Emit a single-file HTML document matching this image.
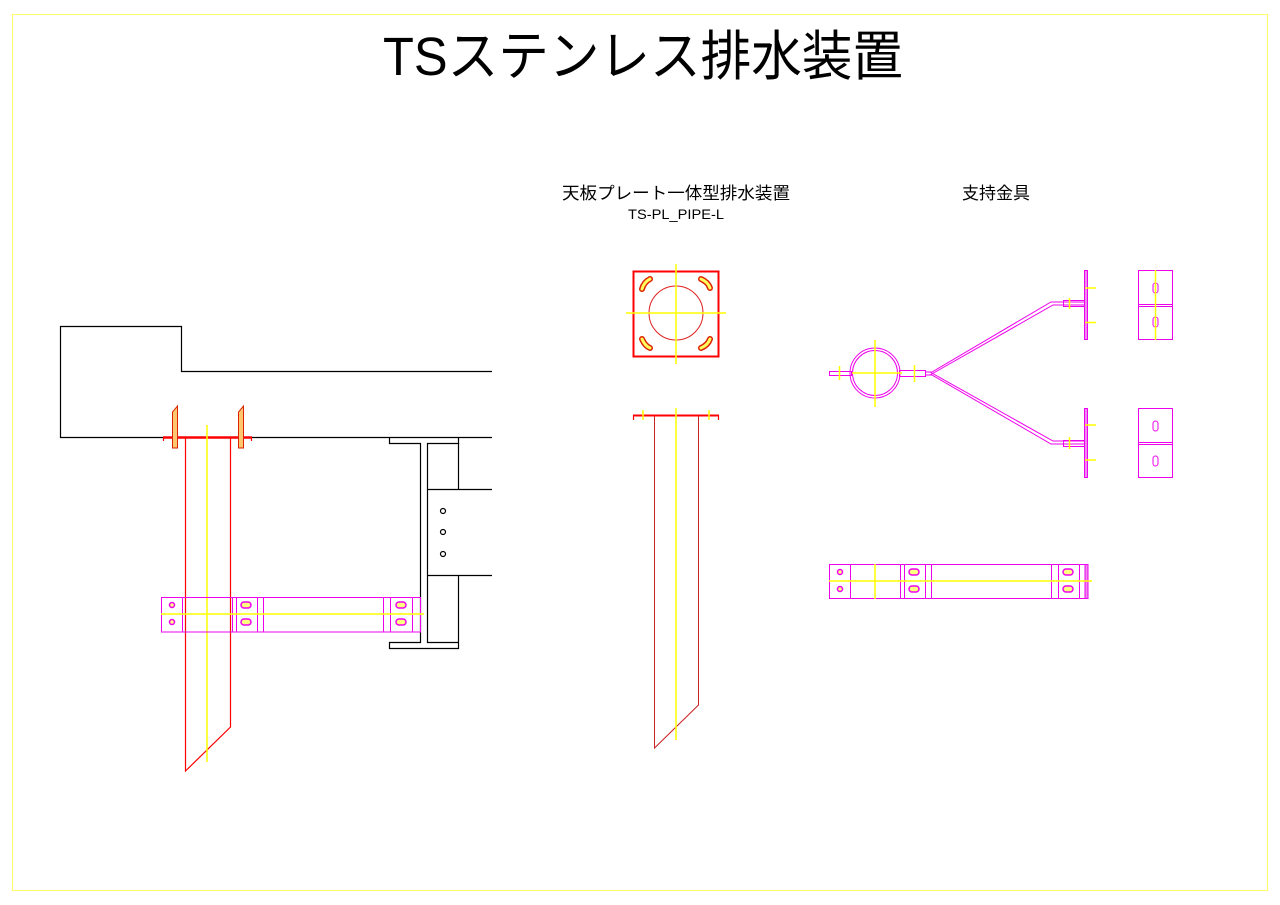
<!DOCTYPE html>
<html><head><meta charset="utf-8"><style>
html,body{margin:0;padding:0;background:#fff;width:1280px;height:905px;overflow:hidden}
svg{display:block}
</style></head><body>
<svg width="1280" height="905" viewBox="0 0 1280 905" xmlns="http://www.w3.org/2000/svg" fill="none">
<rect x="12.5" y="14.5" width="1255" height="876" stroke="#ffff66" stroke-width="1"/>
<text x="383" y="75" font-family="'Liberation Sans','Noto Sans CJK JP',sans-serif" font-size="54" fill="#000" textLength="520" lengthAdjust="spacingAndGlyphs">TSステンレス排水装置</text>
<text x="562" y="199" font-family="'Liberation Sans','Noto Sans CJK JP',sans-serif" font-size="17" fill="#000" textLength="228" lengthAdjust="spacingAndGlyphs">天板プレート一体型排水装置</text>
<text x="628" y="219" font-family="'Liberation Sans','Noto Sans CJK JP',sans-serif" font-size="14" fill="#000" textLength="96" lengthAdjust="spacingAndGlyphs">TS-PL_PIPE-L</text>
<text x="962" y="199" font-family="'Liberation Sans','Noto Sans CJK JP',sans-serif" font-size="17" fill="#000" textLength="68" lengthAdjust="spacingAndGlyphs">支持金具</text>

<g stroke="#000" stroke-width="1.2">
<polyline points="492,371.5 181.5,371.5 181.5,326.5 60.5,326.5 60.5,437.5 492,437.5"/>
<polyline points="389.5,437.5 389.5,443.5 420.5,443.5 420.5,642.5 389.5,642.5 389.5,648.5 458.5,648.5 458.5,642.5 427.5,642.5 427.5,443.5 458.5,443.5 458.5,437.5"/>
<line x1="458.5" y1="443" x2="458.5" y2="489"/>
<line x1="458.5" y1="575" x2="458.5" y2="642"/>
<line x1="427" y1="489.5" x2="492" y2="489.5"/>
<line x1="427" y1="575.5" x2="492" y2="575.5"/>
<circle cx="443" cy="511" r="2.5"/><circle cx="443" cy="532" r="2.5"/><circle cx="443" cy="554" r="2.5"/>
</g>
<g stroke="#ff0000" stroke-width="1.2">
<polyline points="185.5,438 185.5,771 230.5,727 230.5,438"/>
<line x1="163" y1="437.5" x2="252" y2="437.5" stroke-width="2.5"/>
<polyline points="163.5,441 163.5,437.5"/><polyline points="251.5,441 251.5,437.5"/>
</g>
<line x1="207" y1="425" x2="207" y2="762" stroke="#ffff00" stroke-width="1.5"/>
<g stroke="#dd2200" fill="#ffc870" stroke-width="1">
<path d="M172.5,448 L172.5,412 L177.5,406 L177.5,448 Z"/>
<path d="M238.5,448 L238.5,412 L243.5,406 L243.5,448 Z"/>
</g>
<g stroke="#ee00ee" stroke-width="1">
<rect x="161.5" y="597.5" width="259" height="34.5"/>
<line x1="182.5" y1="597" x2="182.5" y2="632"/>
<line x1="232.5" y1="597" x2="232.5" y2="632"/>
<line x1="236.5" y1="597" x2="236.5" y2="632"/>
<line x1="257.5" y1="597" x2="257.5" y2="632"/>
<line x1="263.5" y1="597" x2="263.5" y2="632"/>
<line x1="383.5" y1="597" x2="383.5" y2="632"/>
<line x1="390.5" y1="597" x2="390.5" y2="632"/>
<line x1="412.5" y1="597" x2="412.5" y2="632"/>
</g>
<line x1="161" y1="614" x2="424" y2="614" stroke="#ffff00" stroke-width="1.5"/>
<g stroke="#ee00ee" stroke-width="1.5" fill="#ffff80">
<circle cx="172" cy="605" r="2.5"/><circle cx="172" cy="622" r="2.5"/>
<rect x="241" y="602" width="10" height="6" rx="3"/><rect x="241" y="619" width="10" height="6" rx="3"/>
<rect x="396" y="602" width="10" height="6" rx="3"/><rect x="396" y="619" width="10" height="6" rx="3"/>
</g>

<rect x="633.5" y="271.5" width="85" height="85" stroke="#ff0000" stroke-width="2"/>
<circle cx="676" cy="313" r="27" stroke="#dd2222" stroke-width="1"/>
<g stroke="#ffff00" stroke-width="1.5">
<line x1="626" y1="313" x2="726" y2="313"/>
<line x1="676" y1="264" x2="676" y2="364"/>
</g>
<g stroke="#dd2200" stroke-width="6" stroke-linecap="round">
<path d="M642,289 Q644,282 650,279"/><path d="M701,279 Q708,282 710,288"/>
<path d="M642,339 Q645,346 650,348"/><path d="M701,348 Q708,345 710,339"/>
</g>
<g stroke="#ffff60" stroke-width="3" stroke-linecap="round">
<path d="M642,289 Q644,282 650,279"/><path d="M701,279 Q708,282 710,288"/>
<path d="M642,339 Q645,346 650,348"/><path d="M701,348 Q708,345 710,339"/>
</g>
<g stroke="#ff0000" stroke-width="1.2">
<line x1="633" y1="415.5" x2="719" y2="415.5" stroke-width="2"/>
<line x1="633.5" y1="415" x2="633.5" y2="420"/><line x1="718.5" y1="415" x2="718.5" y2="420"/>
</g>
<polyline points="654.5,416 654.5,748 698.5,705 698.5,416" stroke="#cc2222" stroke-width="1"/>
<g stroke="#ffff00" stroke-width="1.5">
<line x1="676" y1="408" x2="676" y2="740"/>
<line x1="643" y1="410" x2="643" y2="420"/><line x1="709" y1="410" x2="709" y2="420"/>
</g>

<g stroke="#ee00ee" stroke-width="1">
<circle cx="875" cy="373" r="25"/><circle cx="875" cy="373" r="22.5"/>
<rect x="829.5" y="371.5" width="22" height="4"/>
<rect x="899.5" y="370.5" width="26" height="6"/>
<polyline points="925,372 932,372 1051,302 1086,302"/>
<polyline points="930,375 1053,305 1086,305"/>
<polyline points="925,375 932,375 1051,444 1086,444"/>
<polyline points="930,372 1053,441 1086,441"/>
<rect x="1063.5" y="300.5" width="22" height="6"/>
<rect x="1063.5" y="440.5" width="22" height="6"/>
<rect x="1084.5" y="270.5" width="3" height="69" fill="#ee88ee"/>
<rect x="1084.5" y="408.5" width="3" height="69" fill="#ee88ee"/>
<rect x="1138.5" y="270.5" width="34" height="69"/>
<line x1="1138" y1="304.5" x2="1173" y2="304.5"/><line x1="1138" y1="306.5" x2="1173" y2="306.5"/>
<rect x="1138.5" y="408.5" width="34" height="69"/>
<line x1="1138" y1="442.5" x2="1173" y2="442.5"/><line x1="1138" y1="444.5" x2="1173" y2="444.5"/>
<rect x="1153" y="283" width="5" height="10" rx="2.5"/><rect x="1153" y="317" width="5" height="10" rx="2.5"/>
<rect x="1153" y="421" width="5" height="10" rx="2.5"/><rect x="1153" y="456" width="5" height="10" rx="2.5"/>
</g>
<g stroke="#ffff00" stroke-width="1.5">
<line x1="875" y1="340" x2="875" y2="407"/>
<line x1="852" y1="373" x2="902" y2="373"/>
<line x1="839.5" y1="366" x2="839.5" y2="380"/>
<line x1="914.5" y1="365" x2="914.5" y2="382"/>
<line x1="1069.5" y1="298" x2="1069.5" y2="309"/>
<line x1="1069.5" y1="437" x2="1069.5" y2="449"/>
<line x1="1085" y1="288" x2="1096" y2="288"/><line x1="1085" y1="322.5" x2="1096" y2="322.5"/>
<line x1="1085" y1="425" x2="1096" y2="425"/><line x1="1085" y1="460" x2="1096" y2="460"/>
<line x1="1155.5" y1="270" x2="1155.5" y2="340"/>
</g>

<g stroke="#ee00ee" stroke-width="1">
<rect x="829.5" y="564.5" width="258" height="34"/>
<line x1="850.5" y1="564" x2="850.5" y2="599"/>
<line x1="900.5" y1="564" x2="900.5" y2="599"/>
<line x1="904.5" y1="564" x2="904.5" y2="599"/>
<line x1="925.5" y1="564" x2="925.5" y2="599"/>
<line x1="931.5" y1="564" x2="931.5" y2="599"/>
<line x1="1051.5" y1="564" x2="1051.5" y2="599"/>
<line x1="1058.5" y1="564" x2="1058.5" y2="599"/>
<line x1="1079.5" y1="564" x2="1079.5" y2="599"/>
<rect x="1085" y="564.5" width="3" height="34" fill="#ee88ee"/>
</g>
<g stroke="#ffff00" stroke-width="1.5">
<line x1="829" y1="581" x2="1092" y2="581"/>
<line x1="875" y1="564" x2="875" y2="599"/>
</g>
<g stroke="#ee00ee" stroke-width="1.5" fill="#ffff80">
<circle cx="840" cy="572" r="2.5"/><circle cx="840" cy="589" r="2.5"/>
<rect x="909" y="569" width="10" height="6" rx="3"/><rect x="909" y="586" width="10" height="6" rx="3"/>
<rect x="1063" y="569" width="10" height="6" rx="3"/><rect x="1063" y="586" width="10" height="6" rx="3"/>
</g>
</svg>
</body></html>
